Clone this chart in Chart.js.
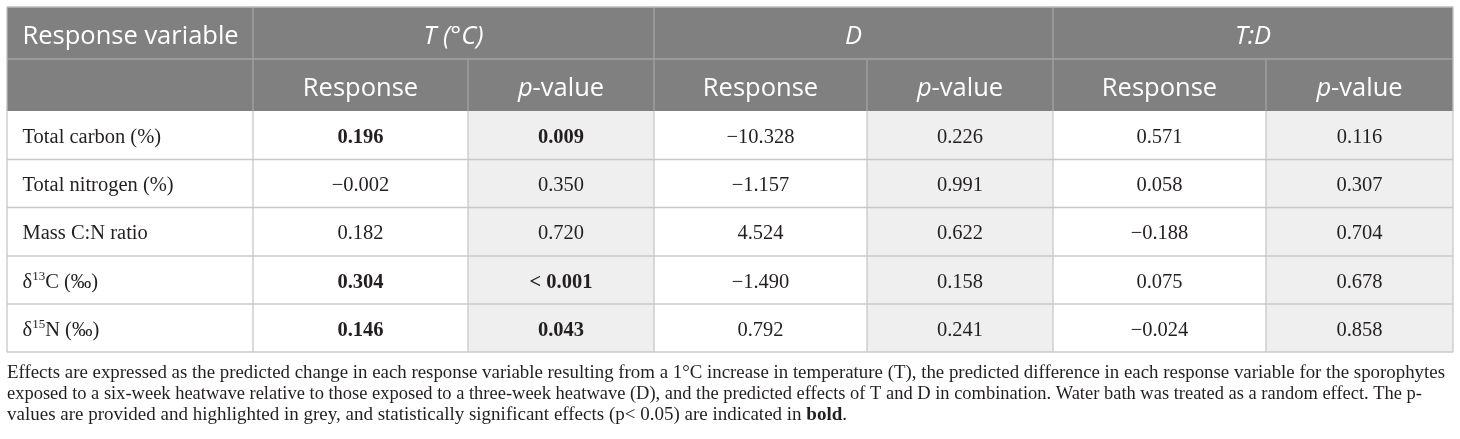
<!DOCTYPE html>
<html><head><meta charset="utf-8">
<script src="https://cdn.jsdelivr.net/npm/chart.js@4.4.0/dist/chart.umd.min.js"></script>
<style>html,body{margin:0;padding:0;background:#fff}#wrap{width:1460px;height:439px;position:relative}</style>
</head><body><div id="wrap"><canvas id="c"></canvas></div>
<script>
// ---- data ----
const rowLabels = ['Total carbon (%)', 'Total nitrogen (%)', 'Mass C:N ratio', 'δ^13C (‰)', 'δ^15N (‰)'];
const firstHeader = 'Response variable';
const groupLabels = ['T (°C)', 'D', 'T:D'];
const subLabels = ['Response', 'p-value'];
const tResponse = [0.196, -0.002, 0.182, 0.304, 0.146];
const tPValue = ['0.009', '0.350', '0.720', '< 0.001', '0.043'];
const dResponse = [-10.328, -1.157, 4.524, -1.490, 0.792];
const dPValue = ['0.226', '0.991', '0.622', '0.158', '0.241'];
const tdResponse = [0.571, 0.058, -0.188, 0.075, -0.024];
const tdPValue = ['0.116', '0.307', '0.704', '0.678', '0.858'];
const footnoteLines = [
  'Effects are expressed as the predicted change in each response variable resulting from a 1°C increase in temperature (T), the predicted difference in each response variable for the sporophytes',
  'exposed to a six-week heatwave relative to those exposed to a three-week heatwave (D), and the predicted effects of T and D in combination. Water bath was treated as a random effect. The p-',
  'values are provided and highlighted in grey, and statistically significant effects (p< 0.05) are indicated in **bold**.'
];

// ---- layout (kept separate from data) ----
const colEdges = [7, 253, 468, 654, 867, 1053, 1266, 1453];
const rowEdges = [7, 59, 111, 159.5, 207.5, 256, 304, 352];
const headerBaselines = [43.5, 96];
const bodyBaselineOffset = 31.5;
const footBaselines = [378, 399, 420];
const footLineEnds = [1445, 1422, 847];
const labelX = 22.5;
const SERIF = '"Liberation Serif", "Times New Roman", serif';
const SANS = '"Open Sans", "Noto Sans", sans-serif';

function fmt(v){ return v.toFixed(3).replace('-', '\u2212'); }
function pNum(s){ return parseFloat(s.replace('<','').trim()); }

const groups = [
  {resp: tResponse, p: tPValue},
  {resp: dResponse, p: dPValue},
  {resp: tdResponse, p: tdPValue}
];

function richWidth(ctx, segs){
  let w = 0;
  segs.forEach(s => { ctx.font = s.font; w += ctx.measureText(s.t).width; });
  return w;
}
function drawRich(ctx, segs, x, y, align){
  const w = richWidth(ctx, segs);
  let cx = align === 'center' ? x - w/2 : x;
  segs.forEach(s => {
    ctx.font = s.font;
    ctx.fillText(s.t, cx, y + (s.dy || 0));
    cx += ctx.measureText(s.t).width;
  });
}

function labelSegs(label, size){
  const m = label.match(/^(.*)\^(\d+)(.*)$/);
  const f = size + 'px ' + SERIF;
  if (!m) return [{t: label, font: f}];
  return [{t: m[1], font: f}, {t: m[2], font: Math.round(size*0.62) + 'px ' + SERIF, dy: -size*0.36}, {t: m[3], font: f}];
}

const tablePlugin = {
  id: 'tablePlugin',
  afterDraw(chart){
    const ctx = chart.ctx;
    const X = v => chart.scales.x.getPixelForValue(v);
    const Y = v => chart.scales.y.getPixelForValue(v);
    const x0 = X(colEdges[0]), x7 = X(colEdges[7]);
    ctx.save();
    // header background
    ctx.fillStyle = '#7f807f';
    ctx.fillRect(x0, Y(rowEdges[0]), x7 - x0, Y(rowEdges[2]) - Y(rowEdges[0]));
    // p-value cells background
    ctx.fillStyle = '#efefef';
    [2, 4, 6].forEach(ci => {
      ctx.fillRect(X(colEdges[ci]), Y(rowEdges[2]), X(colEdges[ci+1]) - X(colEdges[ci]), Y(rowEdges[7]) - Y(rowEdges[2]));
    });
    // lines
    ctx.lineWidth = 1.3;
    const line = (a, b, c, d, col) => { ctx.strokeStyle = col; ctx.beginPath(); ctx.moveTo(a, b); ctx.lineTo(c, d); ctx.stroke(); };
    const hdrLine = '#a3a3a3', bodyLine = '#c8c8c8';
    line(x0, Y(rowEdges[1]), x7, Y(rowEdges[1]), hdrLine);
    [1, 3, 5].forEach(ci => line(X(colEdges[ci]), Y(rowEdges[0]), X(colEdges[ci]), Y(rowEdges[1]), hdrLine));
    [1, 2, 3, 4, 5, 6].forEach(ci => line(X(colEdges[ci]), Y(rowEdges[1]), X(colEdges[ci]), Y(rowEdges[2]), hdrLine));
    line(x0, Y(rowEdges[0]), x7, Y(rowEdges[0]), '#bdbdbd');
    for (let r = 3; r <= 7; r++) line(x0, Y(rowEdges[r]), x7, Y(rowEdges[r]), bodyLine);
    colEdges.forEach(c => line(X(c), Y(rowEdges[2]), X(c), Y(rowEdges[7]), bodyLine));
    line(x0, Y(rowEdges[0]), x0, Y(rowEdges[2]), '#bdbdbd');
    line(x7, Y(rowEdges[0]), x7, Y(rowEdges[2]), '#bdbdbd');

    // header text
    ctx.fillStyle = '#ffffff';
    ctx.textBaseline = 'alphabetic';
    ctx.textAlign = 'left';
    const hf = '25.5px ' + SANS, hfi = 'italic 25.5px ' + SANS;
    drawRich(ctx, [{t: firstHeader, font: hf}], X(labelX), Y(headerBaselines[0]), 'left');
    groupLabels.forEach((g, gi) => {
      const cx = (X(colEdges[1 + gi*2]) + X(colEdges[3 + gi*2])) / 2;
      drawRich(ctx, [{t: g, font: hfi}], cx, Y(headerBaselines[0]), 'center');
    });
    for (let ci = 1; ci < 7; ci++) {
      const cx = (X(colEdges[ci]) + X(colEdges[ci+1])) / 2;
      const s = subLabels[(ci - 1) % 2];
      const segs = s.startsWith('p-') ? [{t: 'p', font: hfi}, {t: s.slice(1), font: hf}] : [{t: s, font: hf}];
      drawRich(ctx, segs, cx, Y(headerBaselines[1]), 'center');
    }

    // body text
    ctx.fillStyle = '#231f20';
    const bs = 20.5;
    rowLabels.forEach((lab, ri) => {
      const by = Y(rowEdges[2 + ri] + bodyBaselineOffset);
      drawRich(ctx, labelSegs(lab, bs), X(labelX), by, 'left');
      groups.forEach((g, gi) => {
        const bold = pNum(g.p[ri]) < 0.05;
        const f = (bold ? 'bold ' : '') + bs + 'px ' + SERIF;
        const c1 = (X(colEdges[1 + gi*2]) + X(colEdges[2 + gi*2])) / 2;
        const c2 = (X(colEdges[2 + gi*2]) + X(colEdges[3 + gi*2])) / 2;
        drawRich(ctx, [{t: fmt(g.resp[ri]), font: f}], c1, by, 'center');
        drawRich(ctx, [{t: g.p[ri], font: f}], c2, by, 'center');
      });
    });

    // footnote
    ctx.fillStyle = '#231f20';
    const fs = 18.6;
    footnoteLines.forEach((ln, li) => {
      const segs = ln.split('**').map((p, i) => ({t: p, font: (i % 2 === 1 ? 'bold ' : '') + fs + 'px ' + SERIF})).filter(s => s.t.length);
      const w = richWidth(ctx, segs);
      const sx = (X(footLineEnds[li]) - x0) / w;
      ctx.save();
      ctx.translate(x0, Y(footBaselines[li]));
      ctx.scale(sx, 1);
      drawRich(ctx, segs, 0, 0, 'left');
      ctx.restore();
    });
    ctx.restore();
  }
};

new Chart(document.getElementById('c'), {
  type: 'scatter',
  data: { datasets: [] },
  options: {
    responsive: true,
    maintainAspectRatio: false,
    animation: false,
    layout: { padding: 0 },
    plugins: { legend: { display: false }, tooltip: { enabled: false } },
    scales: {
      x: { type: 'linear', min: 0, max: 1460, display: false },
      y: { type: 'linear', min: 0, max: 439, reverse: true, display: false }
    }
  },
  plugins: [tablePlugin]
});
</script>
</body></html>
